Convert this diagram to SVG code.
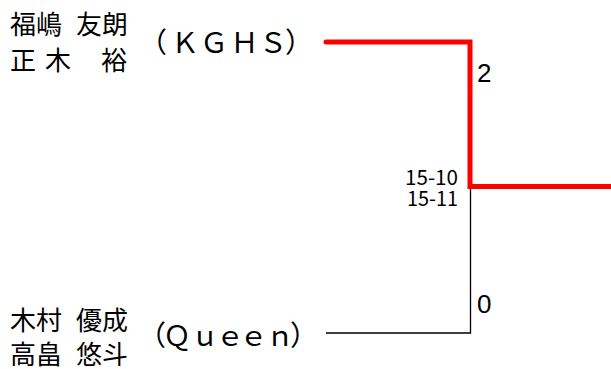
<svg xmlns="http://www.w3.org/2000/svg" width="611" height="369" viewBox="0 0 611 369">
<style>
.name{font-family:"Noto Sans CJK JP","Noto Sans CJK SC",sans-serif;font-size:26px;fill:#000}
.team{font-family:"Noto Sans CJK JP",sans-serif;font-size:28px;fill:#000;text-anchor:middle}
.score{font-family:"Liberation Sans",Arial,sans-serif;font-size:26px;fill:#000}
.set{font-family:"Noto Sans CJK JP",sans-serif;font-size:21px;fill:#000;text-anchor:end}
.win{fill:none;stroke:#ff0000;stroke-width:5;stroke-linecap:round;stroke-linejoin:miter}
.lose{fill:none;stroke:#000;stroke-width:1.3}
</style>
<rect width="611" height="369" fill="#fff"/>
<g id="connectors">
<polyline class="lose" points="326,333 470.5,333 470.5,187"/>
<polyline class="win" points="326,42 470,42 470,186.5 613,186.5"/>
</g>
<g id="team1">
<text class="name" x="10" y="34">福嶋</text>
<text class="name" x="76" y="34">友朗</text>
<text class="name" x="10" y="70">正</text>
<text class="name" x="45" y="70">木</text>
<text class="name" x="101" y="70">裕</text>
<text class="team" x="153 185 214 244.5 273 299" y="53">（ＫＧＨＳ）</text>
</g>
<g id="team2">
<text class="name" x="10" y="330">木村</text>
<text class="name" x="76" y="330">優成</text>
<text class="name" x="10" y="364">高畠</text>
<text class="name" x="76" y="364">悠斗</text>
<text class="team" x="152 177 205 230 253.5 280 304" y="346">（Ｑｕｅｅｎ）</text>
</g>
<g id="scores">
<text class="score" x="477" y="82">2</text>
<text class="score" x="477" y="313">0</text>
<text class="set" x="458" y="185" textLength="53" lengthAdjust="spacingAndGlyphs">15-10</text>
<text class="set" x="458" y="206" textLength="51" lengthAdjust="spacingAndGlyphs">15-11</text>
</g>
</svg>
